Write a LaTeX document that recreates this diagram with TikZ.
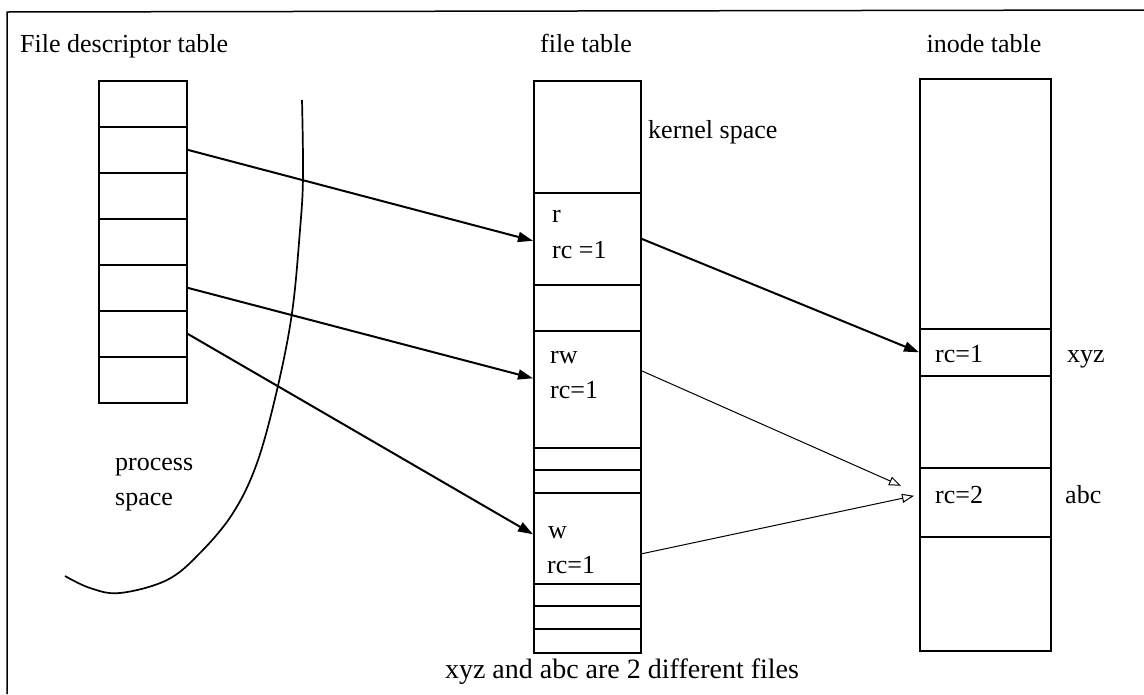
\documentclass[tikz,border=0pt]{standalone}
\usepackage{fontspec}
\setmainfont{Liberation Serif}
\usetikzlibrary{arrows.meta}
\begin{document}
\begin{tikzpicture}[x=1pt,y=-1pt,
  cell/.style={draw, line width=1.6pt, inner sep=0pt, anchor=north west},
  lbl/.style={font=\fontsize{26}{30}\selectfont, inner sep=0pt, anchor=base west},
  boldarrow/.style={line width=2pt, -{Triangle[length=15pt,width=10pt]}},
  thinarrow/.style={line width=1pt, -{Triangle[open,length=12pt,width=9pt]}},
  frame/.style={line width=1.5pt},
  curve/.style={line width=1.7pt}]
\useasboundingbox (0,0) rectangle (1144,694);
\fill[white] (0,0) rectangle (1144,694);
\draw[frame] (1144,10) -- (7,12) -- (7,694);
% file descriptor table
\foreach \i in {1,...,7}
  \node[cell, minimum width=88pt, minimum height=46pt] (fd\i) at (98,{80+46*(\i-1)}) {};
% file table
\foreach \n/\t/\h in {ft0/80/112, fr/192/92, fg/284/46, frw/330/117, fs1/447/22, fs2/469/23, fw/492/91, ft1/583/22, ft2/605/23, ft3/628/24}
  \node[cell, minimum width=107pt, minimum height=\h pt] (\n) at (533,\t) {};
% inode table
\foreach \n/\t/\h in {in0/78/250, ixyz/328/47, in2/375/92, iabc/467/69, in4/536/114}
  \node[cell, minimum width=131pt, minimum height=\h pt] (\n) at (919,\t) {};
% titles
\node[lbl] (tfd) at (20,52) {File descriptor table};
\node[lbl, anchor=base] (tft) at (586,52) {file table};
\node[lbl, anchor=base] (tin) at (984,52) {inode table};
\node[lbl] (ks) at (648,138) {kernel space};
% file table entries
\node[lbl] (l1) at (552,222) {r};
\node[lbl] (l2) at (552,258) {rc =1};
\node[lbl] (l3) at (550,363) {rw};
\node[lbl] (l4) at (550,398) {rc=1};
\node[lbl] (l5) at (548,538) {w};
\node[lbl] (l6) at (547,573) {rc=1};
% inode entries
\node[lbl] (l7) at (935,362) {rc=1};
\node[lbl] (l8) at (935,503) {rc=2};
\node[lbl] (l9) at (1067,362) {xyz};
\node[lbl] (l10) at (1065,503) {abc};
% process space
\node[lbl] (ps1) at (115,470) {process};
\node[lbl] (ps2) at (115,505) {space};
\node[lbl, anchor=base, font=\fontsize{28}{32}\selectfont] (note) at (622,678) {xyz and abc are 2 different files};
% boundary curve
\draw[curve] plot[smooth, tension=0.6] coordinates {(65,576) (90,588) (120,593) (167,580) (200,553) (233,513) (257,463) (277,390) (292,313) (300,230) (303,177) (302,100)};
% arrows
\coordinate (h1) at ([xshift=-18pt,yshift=16.5pt]iabc.west);
\coordinate (h2) at ([xshift=-5pt,yshift=6.5pt]iabc.west);
\draw[boldarrow] (fd2.east) -- ([yshift=-2pt]fr.west);
\draw[boldarrow] (fd5.east) -- ([yshift=11pt]frw.west);
\draw[boldarrow] (fd6.east) -- ([yshift=4pt]fw.west);
\draw[boldarrow] (fr.east) -- (ixyz.west);
\draw[thinarrow] ([yshift=18.5pt]frw.east) -- (h1);
\draw[thinarrow] ([yshift=-15.5pt]fw.east) -- (h2);
\end{tikzpicture}
\end{document}
